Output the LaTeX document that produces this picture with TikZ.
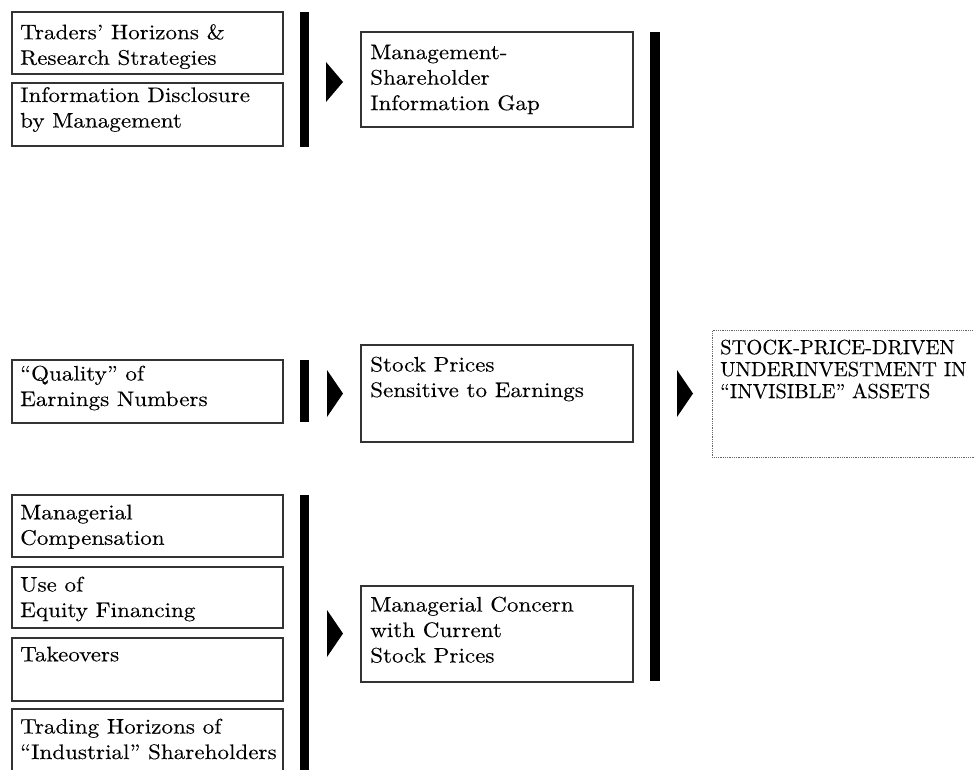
\documentclass[tikz,border=0pt]{standalone}
\usepackage{fontspec}
\setmainfont{lmroman10-regular.otf}[FakeStretch=1.1,FakeBold=0.2]
\newfontfamily\capsfont{lmroman10-regular.otf}[FakeBold=0.2]
\begin{document}
\begin{tikzpicture}[x=1pt,y=-1pt,
  box/.style={draw=black!80, line width=1.1pt, anchor=north west, inner sep=0pt, outer sep=0pt},
  lbox/.style={box, minimum width=271pt},
  mbox/.style={box, minimum width=272pt},
  fbox/.style={draw=black!60, line width=0.9pt, dash pattern=on 0.9pt off 0.9pt, anchor=north west, inner sep=0pt, minimum width=270pt, minimum height=127pt},
  txt/.style={anchor=north west, inner sep=0pt, align=left, font=\fontsize{21}{25.5}\selectfont},
  ftxt/.style={anchor=north west, inner sep=0pt, align=left, font=\capsfont\fontsize{20.5}{22}\selectfont},
  bar/.style={fill=black, anchor=north west, inner sep=0pt, outer sep=0pt, minimum width=9pt},
  tri/.style={fill=black}
]
\useasboundingbox (0,0) rectangle (974,769);

% left boxes
\node[lbox, minimum height=62pt] (l1) at (12,12) {};
\node[txt] (l1t) at (20,24) {Traders’ Horizons \&\\Research Strategies};
\node[lbox, minimum height=63pt] (l2) at (12,83) {};
\node[txt] (l2t) at (20,87) {Information Disclosure\\by Management};
\node[lbox, minimum height=63pt] (l3) at (12,360) {};
\node[txt] (l3t) at (20,365.5) {“Quality” of\\Earnings Numbers};
\node[lbox, minimum height=62pt] (l4) at (12,495) {};
\node[txt] (l4t) at (20,504.5) {Managerial\\Compensation};
\node[lbox, minimum height=61pt] (l5) at (12,567) {};
\node[txt] (l5t) at (20,576.5) {Use of\\Equity Financing};
\node[lbox, minimum height=63pt] (l6) at (12,638) {};
\node[txt] (l6t) at (20,646.5) {Takeovers};
\node[lbox, minimum height=75pt] (l7) at (12,709) {};
\node[txt] (l7t) at (20,718.5) {Trading Horizons of\\“Industrial” Shareholders};

% middle boxes
\node[mbox, minimum height=95pt] (m1) at (361,32) {};
\node[txt] (m1t) at (370,44.5) {Management-\\Shareholder\\Information Gap};
\node[mbox, minimum height=97pt] (m2) at (361,345) {};
\node[txt] (m2t) at (370,356.5) {Stock Prices\\Sensitive to Earnings};
\node[mbox, minimum height=96pt] (m3) at (361,586) {};
\node[txt] (m3t) at (370,596.5) {Managerial Concern\\with Current\\Stock Prices};

% final box
\node[fbox] (f) at (712,330) {};
\node[ftxt] (ft) at (720,339.5) {STOCK-PRICE-DRIVEN\\UNDERINVESTMENT IN\\“INVISIBLE” ASSETS};

% bars
\node[bar, minimum height=135pt] (b1) at (300,12) {};
\node[bar, minimum height=62pt] (b2) at (300,360) {};
\node[bar, minimum height=285pt] (b3) at (300,495) {};
\node[bar, minimum width=10pt, minimum height=649pt] (b4) at (650,32) {};

% triangles
\fill[tri] (326,62) -- (343,82) -- (326,102) -- cycle;
\fill[tri] (327,370) -- (343,393.5) -- (327,417) -- cycle;
\fill[tri] (327,610) -- (343,633.5) -- (327,657) -- cycle;
\fill[tri] (677,370) -- (693,393.5) -- (677,417) -- cycle;
\end{tikzpicture}
\end{document}
